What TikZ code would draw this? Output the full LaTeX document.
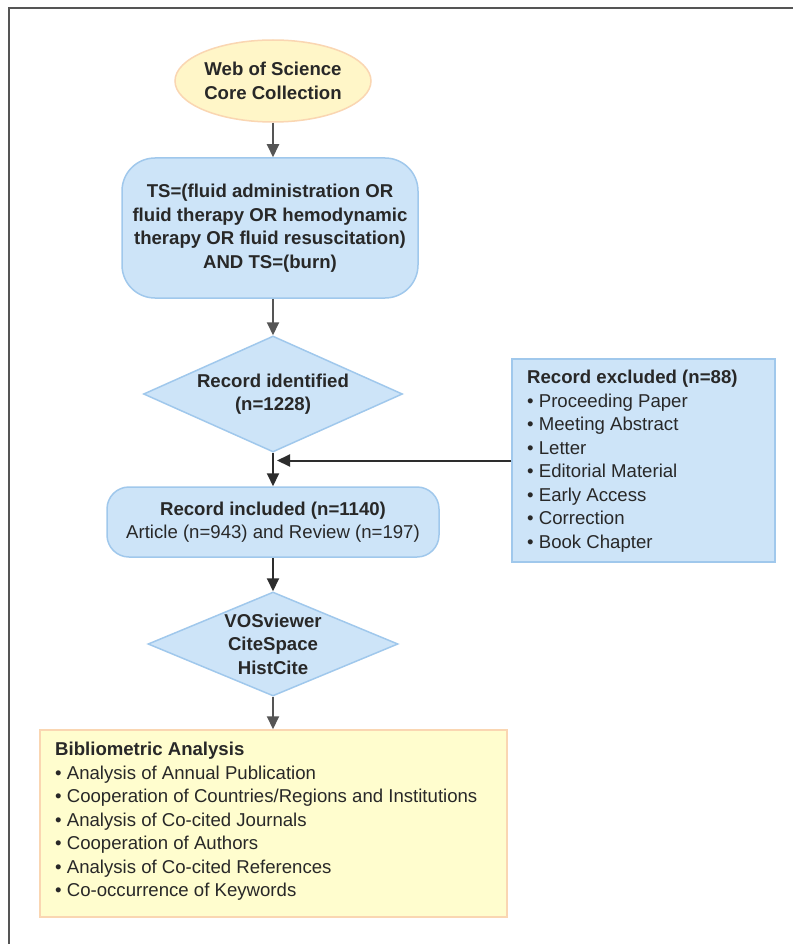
\documentclass[tikz,border=0pt]{standalone}
\usepackage{fontspec}
\setmainfont{Liberation Sans}
\usetikzlibrary{shapes.geometric,arrows.meta}
\definecolor{bfill}{RGB}{205,228,248}
\definecolor{bbord}{RGB}{160,200,236}
\definecolor{yfill}{RGB}{255,253,206}
\definecolor{ybord}{RGB}{250,214,178}
\definecolor{efill}{RGB}{255,246,200}
\definecolor{txt}{RGB}{40,40,40}
\definecolor{agray}{RGB}{85,85,85}
\definecolor{adark}{RGB}{45,45,45}
\tikzset{
  base/.style={inner sep=0pt, text=txt, font=\fontsize{18.6}{23.5}\selectfont, align=center},
  bluebox/.style={base, draw=bbord, fill=bfill, line width=1.5pt},
  yellowbox/.style={base, draw=ybord, fill=yfill, line width=1.5pt},
  graylink/.style={draw=agray, line width=2pt, -{Triangle[length=13pt,width=12pt]}},
  darklink/.style={draw=adark, line width=2pt, -{Triangle[length=13pt,width=12pt]}},
  listtext/.style={base, align=left, anchor=north west},
}
\begin{document}
\begin{tikzpicture}[x=1pt,y=-1pt]
\useasboundingbox (0,0) rectangle (793,944);
\fill[white] (0,0) rectangle (793,944);
% frame (top and left)
\draw[draw=agray, line width=1.5pt] (9,944) -- (9,8) -- (793,8);

% source ellipse
\node[yellowbox, fill=efill, ellipse, minimum width=196pt, minimum height=82pt] (src) at (273,81)
  {\bfseries Web of Science\\\bfseries Core Collection};

% query box
\node[bluebox, rectangle, rounded corners=33pt, minimum width=296pt, minimum height=140pt] (query) at (270,228)
  {\bfseries TS=(fluid administration OR\\\bfseries fluid therapy OR hemodynamic\\\bfseries therapy OR fluid resuscitation)\\\bfseries AND TS=(burn)};

% identified diamond
\node[bluebox, diamond, aspect=2.23, minimum width=259pt, minimum height=116pt] (ident) at (273,394)
  {\bfseries Record identified\\\bfseries (n=1228)};

% included box
\node[bluebox, rectangle, rounded corners=22pt, minimum width=332pt, minimum height=70pt] (incl) at (273,522)
  {\bfseries Record included (n=1140)\\Article (n=943) and Review (n=197)};

% excluded box
\node[bluebox, rectangle, minimum width=263pt, minimum height=203pt] (excl) at (643.5,460.5) {};
\node[listtext] (excltext) at (527,370)
  {{\bfseries Record excluded (n=88)}\\
   • Proceeding Paper\\
   • Meeting Abstract\\
   • Letter\\
   • Editorial Material\\
   • Early Access\\
   • Correction\\
   • Book Chapter};

% tools diamond
\node[bluebox, diamond, aspect=2.43, minimum width=250pt, minimum height=104pt] (tools) at (273,644)
  {\bfseries VOSviewer\\\bfseries CiteSpace\\\bfseries HistCite};

% analysis box
\node[yellowbox, rectangle, minimum width=467pt, minimum height=187pt] (anal) at (273.5,823.5) {};
\node[listtext] (analtext) at (55,742)
  {{\bfseries Bibliometric Analysis}\\
   • Analysis of Annual Publication\\
   • Cooperation of Countries/Regions and Institutions\\
   • Analysis of Co-cited Journals\\
   • Cooperation of Authors\\
   • Analysis of Co-cited References\\
   • Co-occurrence of Keywords};

% connectors
\coordinate (join) at (ident.south |- excl.west);
\draw[graylink] (src.south) -- (query.north -| src.south);
\draw[graylink] (query.south -| ident.north) -- (ident.north);
\draw[darklink] (ident.south) -- (incl.north);
\draw[darklink] (excl.west) -- ([xshift=4pt]join);
\draw[darklink] (incl.south) -- (tools.north);
\draw[graylink] (tools.south) -- (anal.north -| tools.south);
\end{tikzpicture}
\end{document}
